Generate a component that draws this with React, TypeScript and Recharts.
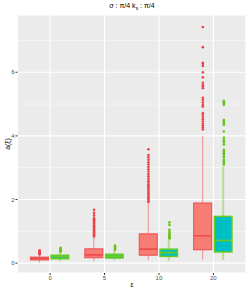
import React from 'react'
import { ComposedChart, Bar, Scatter, XAxis, YAxis, CartesianGrid } from 'recharts'

const categories = ['0', '5', '10', '20']

// red series (left box of each group)
const redLow = [0.02, 0.07, 0.09, 0.11]
const redQ1 = [0.1, 0.17, 0.25, 0.42]
const redMedian = [0.15, 0.26, 0.44, 0.86]
const redQ3 = [0.19, 0.45, 0.92, 1.89]
const redHigh = [0.24, 0.82, 1.88, 4.0]
const redOutliers = [
  [0.27, 0.29, 0.31, 0.33, 0.35, 0.38, 0.4],
  [0.84, 0.87, 0.9, 0.92, 0.96, 0.99, 1.02, 1.06, 1.08, 1.11, 1.15, 1.17, 1.2, 1.24, 1.27, 1.3, 1.35, 1.38, 1.42, 1.5, 1.58, 1.68],
  [1.92, 1.95, 2.0, 2.03, 2.08, 2.12, 2.17, 2.21, 2.27, 2.33, 2.37, 2.42, 2.48, 2.55, 2.6, 2.66, 2.73, 2.8, 2.88, 2.95, 3.02, 3.1, 3.17, 3.25, 3.33, 3.4, 3.58],
  [4.2, 4.26, 4.32, 4.38, 4.45, 4.52, 4.6, 4.67, 4.72, 4.92, 4.98, 5.05, 5.13, 5.2, 5.5, 5.55, 5.6, 5.67, 5.84, 6.0, 6.2, 6.27, 6.3, 6.79, 7.42],
]

// second series (right box of each group)
const greenLow = [0.06, 0.08, 0.07, 0.1]
const greenQ1 = [0.135, 0.16, 0.21, 0.35]
const greenMedian = [0.2, 0.22, 0.33, 0.71]
const greenQ3 = [0.25, 0.28, 0.44, 1.47]
const greenHigh = [0.34, 0.4, 0.76, 3.04]
const greenOutliers = [
  [0.36, 0.38, 0.4, 0.42, 0.45, 0.48],
  [0.42, 0.45, 0.48, 0.52, 0.55],
  [0.78, 0.8, 0.83, 0.86, 0.89, 0.94, 0.99, 1.05, 1.2, 1.28],
  [3.1, 3.15, 3.2, 3.25, 3.34, 3.4, 3.45, 3.5, 3.56, 3.73, 3.8, 3.86, 3.94, 4.14, 4.35, 4.4, 4.45, 4.5, 4.98, 5.02, 5.06, 5.1],
]

const yDomain = [-0.31, 7.8]
const yTicks = [0, 2, 4, 6]
const yMinor = [1, 3, 5, 7]

const rows = categories.map((cat, i) => ({
  cat,
  red: [redQ1[i], redQ3[i]],
  rLo: redLow[i], rQ1: redQ1[i], rMed: redMedian[i], rQ3: redQ3[i], rHi: redHigh[i],
  green: [greenQ1[i], greenQ3[i]],
  gLo: greenLow[i], gQ1: greenQ1[i], gMed: greenMedian[i], gQ3: greenQ3[i], gHi: greenHigh[i],
}))

const dodge = 0.193
const redPts = redOutliers.flatMap((vals, i) => vals.map((v) => ({ x: i - dodge, y: v })))
const greenPts = greenOutliers.flatMap((vals, i) => vals.map((v) => ({ x: i + dodge, y: v })))

const makeBox = (p: string, fill: string, stroke: string, wColor: string, wWidth: number, sw: number) => (props: any) => {
  const { x, y, width, height, payload } = props
  const top = Math.min(y, y + height)
  const h = Math.abs(height)
  const q1 = payload[p + 'Q1'], q3 = payload[p + 'Q3']
  const k = h / (q3 - q1)
  const py = (v: number) => top + h - (v - q1) * k
  const cx = x + width / 2
  return (
    <g>
      <line x1={cx} x2={cx} y1={py(payload[p + 'Hi'])} y2={top} stroke={wColor} strokeWidth={wWidth} />
      <line x1={cx} x2={cx} y1={top + h} y2={py(payload[p + 'Lo'])} stroke={wColor} strokeWidth={wWidth} />
      <rect x={x + sw / 2} y={top} width={width - sw} height={h} fill={fill} stroke={stroke} strokeWidth={sw} />
      <line x1={x + sw / 2} x2={x + width - sw / 2} y1={py(payload[p + 'Med'])} y2={py(payload[p + 'Med'])} stroke={stroke} strokeWidth={1.6} />
    </g>
  )
}

const tick = { fontSize: 6, fill: '#4D4D4D', fontFamily: 'Liberation Sans, Arial, sans-serif' }
const txt = { position: 'absolute' as const, fontFamily: 'Liberation Sans, Arial, sans-serif', color: '#000', whiteSpace: 'nowrap' as const }

export default function App() {
  return (
    <div style={{ position: 'absolute', left: 0, top: 0, width: 249, height: 291, background: '#fff' }}>
      <ComposedChart width={249} height={291} data={rows} margin={{ top: 15, right: 3, bottom: 0, left: 0 }} barGap={1.5} barSize={19}>
        <CartesianGrid xAxisId="cat" fill="#EBEBEB" stroke="#fff" strokeWidth={1.1} />
        <CartesianGrid xAxisId="cat" yAxisId="minor" vertical={false} stroke="#fff" strokeWidth={0.5} />
        <XAxis xAxisId="cat" dataKey="cat" type="category" height={18} padding={{ left: 5.4, right: 5.4 }}
          axisLine={false} tickSize={2} tickLine={{ stroke: '#333' }} tick={tick} tickMargin={1} interval={0} />
        <XAxis xAxisId="num" dataKey="x" type="number" domain={[-0.6, 3.6]} hide allowDataOverflow />
        <YAxis type="number" domain={yDomain} ticks={yTicks} allowDataOverflow width={17.5}
          axisLine={false} tickSize={2} tickLine={{ stroke: '#333' }} tick={tick} tickMargin={1} />
        <YAxis yAxisId="minor" type="number" domain={yDomain} ticks={yMinor} allowDataOverflow hide />
        <Bar xAxisId="cat" dataKey="red" isAnimationActive={false}
          shape={makeBox('r', 'rgba(248,118,109,0.95)', '#EE4B4E', 'rgba(240,80,80,0.6)', 1, 1)} />
        <Bar xAxisId="cat" dataKey="green" isAnimationActive={false}
          shape={makeBox('g', '#00BFC4', '#6CCB1E', 'rgba(124,200,40,0.45)', 2, 1.4)} />
        <Scatter xAxisId="num" data={redPts} dataKey="y" isAnimationActive={false}
          shape={(p: any) => <circle cx={p.cx} cy={p.cy} r={1.3} fill="#EE4248" />} />
        <Scatter xAxisId="num" data={greenPts} dataKey="y" isAnimationActive={false}
          shape={(p: any) => <circle cx={p.cx} cy={p.cy} r={1.3} fill="#66C21A" />} />
      </ComposedChart>
      <div style={{ ...txt, left: 0, width: 264, top: 2, textAlign: 'center', fontSize: 7 }}>
        σ : π/4 k<sub style={{ fontSize: 5 }}>s</sub> : π/4
      </div>
      <div style={{ ...txt, left: 0, width: 264, top: 281, textAlign: 'center', fontSize: 7 }}>ε</div>
      <div style={{ ...txt, left: 7, top: 144, fontSize: 7, transform: 'translate(-50%, -50%) rotate(-90deg)' }}>a(ξ)</div>
    </div>
  )
}
